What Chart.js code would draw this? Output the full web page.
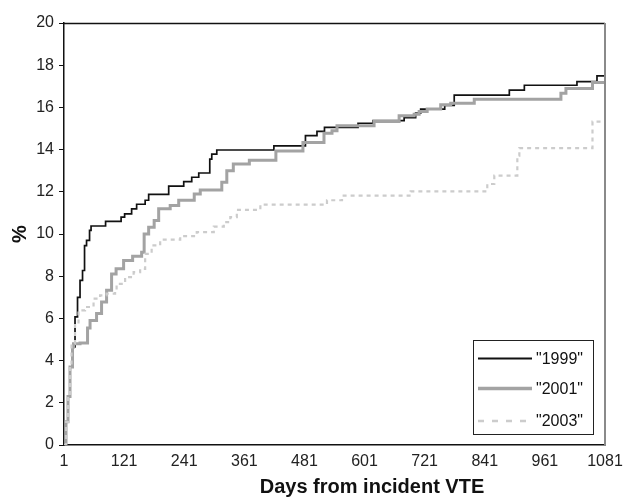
<!DOCTYPE html>
<html>
<head>
<meta charset="utf-8">
<script src="https://cdn.jsdelivr.net/npm/chart.js@4/dist/chart.umd.min.js"></script>
<style>
html,body{margin:0;padding:0;background:#fff;}
canvas{display:block;}
</style>
</head>
<body>
<canvas id="c" width="626" height="499"></canvas>
<script>
// ---- data ----
const seriesLabels = ['"1999"', '"2001"', '"2003"'];
const xTicks = [1, 121, 241, 361, 481, 601, 721, 841, 961, 1081];
const yTicks = [0, 2, 4, 6, 8, 10, 12, 14, 16, 18, 20];

const days1999 = [1, 5, 9, 13, 18, 23, 28, 33, 38, 42, 46, 52, 55, 84, 115, 122, 136, 146, 163, 170, 210, 240, 256, 270, 292, 296, 306, 420, 483, 506, 521, 588, 618, 680, 703, 713, 761, 780, 890, 920, 1025, 1065, 1081];
const vals1999 = [0, 1.1, 2.3, 3.7, 4.65, 6.07, 7.0, 7.8, 8.27, 9.45, 9.7, 10.17, 10.38, 10.6, 10.8, 10.95, 11.19, 11.41, 11.6, 11.88, 12.27, 12.48, 12.69, 12.89, 13.55, 13.79, 13.98, 14.18, 14.66, 14.86, 15.05, 15.25, 15.37, 15.52, 15.73, 15.92, 16.1, 16.58, 16.82, 17.05, 17.22, 17.49, 17.49];

const days2001 = [1, 5, 9, 13, 18, 20, 33, 48, 53, 66, 76, 86, 96, 105, 120, 138, 156, 161, 170, 181, 190, 213, 230, 261, 273, 316, 326, 339, 371, 424, 478, 520, 536, 546, 620, 670, 700, 710, 726, 753, 773, 820, 993, 1003, 1056, 1081];
const vals2001 = [0, 1.1, 2.3, 3.7, 4.65, 4.8, 4.84, 5.55, 5.9, 6.23, 6.78, 7.33, 8.1, 8.35, 8.75, 8.94, 9.14, 10.0, 10.32, 10.64, 11.2, 11.35, 11.6, 11.9, 12.08, 12.45, 13.0, 13.32, 13.5, 13.93, 14.34, 14.77, 14.89, 15.13, 15.33, 15.6, 15.68, 15.81, 15.92, 16.12, 16.2, 16.39, 16.67, 16.9, 17.18, 17.18];

const days2003 = [1, 5, 9, 13, 16, 23, 30, 43, 60, 73, 86, 103, 106, 123, 140, 153, 163, 176, 193, 233, 266, 300, 320, 333, 346, 393, 526, 556, 693, 846, 860, 906, 910, 1056, 1077];
const vals2003 = [0, 1.1, 2.3, 3.7, 4.8, 5.75, 6.38, 6.54, 6.94, 7.09, 7.17, 7.25, 7.64, 7.96, 8.19, 8.35, 9.06, 9.46, 9.73, 9.9, 10.09, 10.35, 10.56, 10.8, 11.14, 11.39, 11.6, 11.82, 12.02, 12.37, 12.77, 13.71, 14.07, 15.33, 15.33];

const xTitle = 'Days from incident VTE';
const yTitle = '%';
// --------------------------------------

const FONT = '"Liberation Sans", Arial, Helvetica, sans-serif';
const toPts = (xs, ys) => xs.map((x, i) => ({x: x, y: ys[i]}));

const styles = [
  {color: '#111111', width: 1.7, dash: []},
  {color: '#a3a3a3', width: 3, dash: []},
  {color: '#cccccc', width: 2.2, dash: [4, 4]}
];

const framePlugin = {
  id: 'frame',
  afterDraw(chart) {
    const ctx = chart.ctx, a = chart.chartArea;
    ctx.save();
    ctx.lineWidth = 1.5;
    ctx.strokeStyle = '#111';
    ctx.beginPath();
    ctx.moveTo(a.left, a.top + 0.5);
    ctx.lineTo(a.right, a.top + 0.5);
    ctx.stroke();
    ctx.strokeStyle = '#8a8a8a';
    ctx.lineWidth = 2;
    ctx.beginPath();
    ctx.moveTo(a.right, a.top);
    ctx.lineTo(a.right, a.bottom);
    ctx.stroke();

    // legend box, bottom-right inside plot
    const w = 120, h = 94;
    const lx = a.right - 12 - w, ly = a.bottom - 11 - h;
    ctx.fillStyle = '#fff';
    ctx.fillRect(lx, ly, w, h);
    ctx.strokeStyle = '#222';
    ctx.lineWidth = 1;
    ctx.strokeRect(lx + 0.5, ly + 0.5, w, h);
    const rows = [18.5, 48.5, 81];
    chart.data.datasets.forEach((ds, i) => {
      const st = styles[i];
      const y = ly + rows[i];
      ctx.beginPath();
      ctx.strokeStyle = st.color;
      ctx.lineWidth = st.width + 0.5;
      ctx.setLineDash(i === 2 ? [6, 8] : []);
      ctx.moveTo(lx + 5, y);
      ctx.lineTo(lx + 59, y);
      ctx.stroke();
      ctx.setLineDash([]);
      ctx.fillStyle = '#111';
      ctx.font = '16px ' + FONT;
      ctx.textBaseline = 'middle';
      ctx.textAlign = 'left';
      ctx.fillText(ds.label, lx + 63, y + 1);
    });

    // x axis title
    ctx.fillStyle = '#111';
    ctx.font = 'bold 20px ' + FONT;
    ctx.textAlign = 'center';
    ctx.textBaseline = 'middle';
    ctx.fillText(xTitle, 372, 487);
    ctx.restore();
  }
};

const datasets = [
  toPts(days1999, vals1999),
  toPts(days2001, vals2001),
  toPts(days2003, vals2003)
].map((pts, i) => ({
  label: seriesLabels[i],
  data: pts,
  borderColor: styles[i].color,
  borderWidth: styles[i].width,
  borderDash: styles[i].dash,
  pointRadius: 0,
  fill: false,
  stepped: 'before',
  tension: 0,
  order: 3 - i
}));

new Chart(document.getElementById('c'), {
  type: 'line',
  data: {datasets},
  options: {
    responsive: false,
    animation: false,
    layout: {padding: {top: 23, right: 21, bottom: 0, left: 0}},
    plugins: {legend: {display: false}, tooltip: {enabled: false}},
    scales: {
      x: {
        type: 'linear',
        min: 1, max: 1081,
        afterBuildTicks: s => { s.ticks = xTicks.map(v => ({value: v})); },
        afterFit: s => { s.height = 54; s.paddingLeft = 0; s.paddingRight = 0; },
        grid: {display: false, drawTicks: false},
        border: {display: true, color: '#111', width: 1.5},
        ticks: {color: '#222', font: {family: FONT, size: 16}, padding: 7, maxRotation: 0, autoSkip: false,
                callback: v => String(v)}
      },
      y: {
        min: 0, max: 20,
        afterBuildTicks: s => { s.ticks = yTicks.map(v => ({value: v})); },
        afterFit: s => { s.width = 64; },
        grid: {display: true, drawOnChartArea: false, drawTicks: true, tickLength: 5, color: '#111'},
        border: {display: true, color: '#111', width: 1.5},
        ticks: {color: '#222', font: {family: FONT, size: 16}, padding: 5, callback: v => String(v)},
        title: {display: true, text: yTitle, color: '#111', font: {family: FONT, size: 20, weight: 'bold'}, padding: {top: 8, bottom: 0}}
      }
    }
  },
  plugins: [framePlugin]
});
</script>
</body>
</html>
